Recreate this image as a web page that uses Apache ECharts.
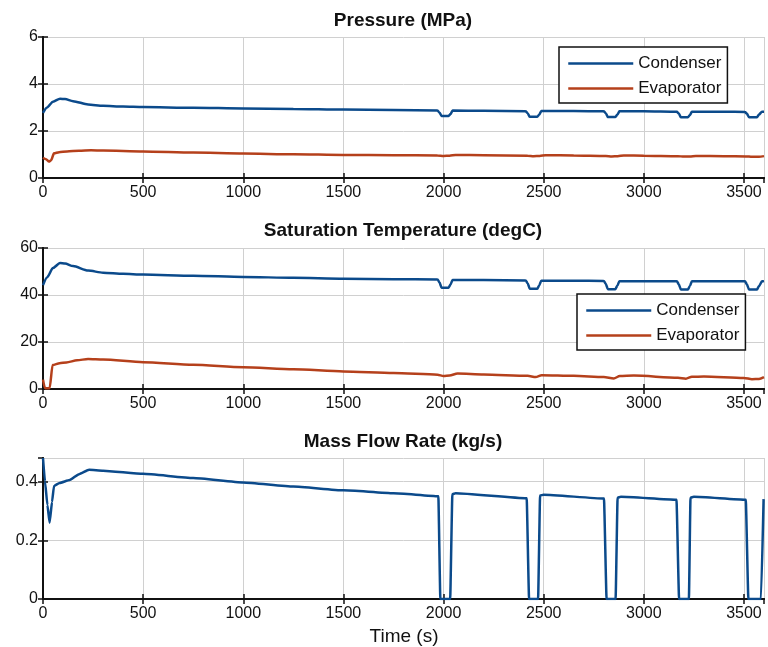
<!DOCTYPE html>
<html>
<head>
<meta charset="utf-8">
<script src="https://cdn.jsdelivr.net/npm/echarts@6/dist/echarts.min.js"></script>
<style>
html,body{margin:0;padding:0;background:#fff;}
#chart{width:768px;height:647px;}
</style>
</head>
<body>
<div id="chart"></div>
<script>
// ---- Data ----
const xTicks = [0, 500, 1000, 1500, 2000, 2500, 3000, 3500];
const panelTitles = ['Pressure (MPa)', 'Saturation Temperature (degC)', 'Mass Flow Rate (kg/s)'];
const xAxisTitle = 'Time (s)';
const legendNames = ['Condenser', 'Evaporator'];

// Pressure - condenser
const pCondTime = [0, 20, 50, 85, 110, 150, 225, 300, 400, 500, 750, 1000, 1250, 1500, 1750, 1970, 1980, 1990, 2025, 2035, 2045, 2200, 2410, 2420, 2430, 2468, 2478, 2488, 2650, 2800, 2810, 2820, 2858, 2868, 2878, 3000, 3165, 3175, 3185, 3220, 3230, 3240, 3400, 3505, 3515, 3525, 3565, 3575, 3590, 3600];
const pCondVal  = [2.77, 3.0, 3.25, 3.37, 3.36, 3.27, 3.13, 3.07, 3.04, 3.02, 2.99, 2.96, 2.94, 2.91, 2.89, 2.87, 2.78, 2.64, 2.64, 2.72, 2.87, 2.86, 2.84, 2.76, 2.61, 2.61, 2.70, 2.85, 2.85, 2.84, 2.76, 2.60, 2.60, 2.70, 2.84, 2.84, 2.82, 2.74, 2.58, 2.58, 2.68, 2.82, 2.82, 2.81, 2.73, 2.59, 2.59, 2.70, 2.82, 2.82];
// Pressure - evaporator
const pEvapTime = [0, 15, 30, 40, 55, 80, 120, 180, 240, 300, 500, 750, 1000, 1250, 1500, 1750, 1970, 2000, 2030, 2060, 2200, 2420, 2450, 2480, 2510, 2650, 2810, 2840, 2870, 2900, 3000, 3170, 3200, 3230, 3260, 3400, 3510, 3540, 3575, 3600];
const pEvapVal  = [0.86, 0.80, 0.70, 0.75, 1.05, 1.10, 1.13, 1.16, 1.18, 1.17, 1.13, 1.08, 1.04, 1.01, 0.98, 0.97, 0.96, 0.94, 0.95, 0.98, 0.97, 0.95, 0.93, 0.94, 0.97, 0.96, 0.94, 0.92, 0.93, 0.96, 0.95, 0.93, 0.91, 0.92, 0.94, 0.93, 0.92, 0.90, 0.90, 0.93];

// Saturation temperature - condenser
const tCondTime = [0, 20, 50, 85, 110, 150, 225, 300, 400, 500, 750, 1000, 1250, 1500, 1750, 1970, 1980, 1990, 2025, 2035, 2045, 2200, 2410, 2420, 2430, 2468, 2478, 2488, 2650, 2800, 2810, 2820, 2858, 2868, 2878, 3000, 3165, 3175, 3185, 3220, 3230, 3240, 3400, 3505, 3515, 3525, 3565, 3575, 3590, 3600];
const tCondVal  = [44.2, 47.5, 51.5, 53.6, 53.4, 52.3, 50.4, 49.5, 49.0, 48.7, 48.2, 47.7, 47.3, 46.9, 46.7, 46.6, 45.3, 43.1, 43.1, 44.5, 46.4, 46.4, 46.2, 45.0, 42.7, 42.7, 44.2, 46.1, 46.1, 46.0, 44.8, 42.5, 42.5, 44.0, 45.9, 45.9, 45.8, 44.5, 42.3, 42.3, 43.8, 45.8, 45.8, 45.8, 44.5, 42.3, 42.3, 43.8, 45.8, 45.9];
// Saturation temperature - evaporator
const tEvapTime = [0, 10, 33, 48, 83, 117, 170, 225, 300, 500, 750, 1000, 1250, 1500, 1750, 1970, 2000, 2030, 2070, 2200, 2420, 2460, 2490, 2650, 2800, 2850, 2880, 2950, 3170, 3210, 3240, 3300, 3500, 3540, 3575, 3600];
const tEvapVal  = [4.0, 0.3, 0.3, 10.2, 11.0, 11.3, 12.2, 12.8, 12.6, 11.4, 10.3, 9.3, 8.4, 7.5, 6.8, 6.1, 5.5, 5.7, 6.6, 6.2, 5.6, 5.1, 5.9, 5.6, 5.1, 4.5, 5.5, 5.7, 4.8, 4.4, 5.2, 5.3, 4.7, 4.2, 4.3, 5.1];

// Mass flow rate
const mfrTime = [0, 10, 22, 33, 45, 55, 83, 133, 180, 230, 300, 500, 750, 1000, 1250, 1500, 1750, 1974, 1984, 2033, 2044, 2060, 2415, 2427, 2472, 2482, 2500, 2801, 2814, 2859, 2869, 2885, 3163, 3176, 3225, 3233, 3250, 3509, 3522, 3585, 3598];
const mfrVal  = [0.48, 0.40, 0.32, 0.26, 0.33, 0.385, 0.395, 0.405, 0.425, 0.44, 0.437, 0.426, 0.412, 0.397, 0.383, 0.37, 0.36, 0.35, 0.0, 0.0, 0.357, 0.36, 0.343, 0.0, 0.0, 0.352, 0.355, 0.342, 0.0, 0.0, 0.345, 0.348, 0.338, 0.0, 0.0, 0.345, 0.348, 0.338, 0.0, 0.0, 0.34];

// ---- Styling ----
const BLUE = '#0b4a8b';
const RED = '#b5401b';
const FONT = 'Liberation Sans, Arial, Helvetica, sans-serif';
const pair = (ts, vs) => ts.map((t, i) => [t, vs[i]]);

const grids = [
  {left: 43, right: 4, top: 37, height: 141},
  {left: 43, right: 4, top: 248, height: 141},
  {left: 43, right: 4, top: 458, height: 141}
];
const yRanges = [
  {min: 0, max: 6, interval: 2},
  {min: 0, max: 60, interval: 20},
  {min: 0, max: 0.48, interval: 0.2}
];

const axisLineStyle = {show: true, lineStyle: {color: '#111', width: 2}};
const tickStyle = {show: true, inside: true, length: 5, lineStyle: {color: '#111', width: 1.5}};
const splitStyle = {show: true, lineStyle: {color: '#d0d0d0', width: 1}};
const labelStyle = {color: '#111', fontSize: 16, fontFamily: FONT};

const xAxes = [], yAxes = [];
grids.forEach((g, i) => {
  xAxes.push({
    type: 'value', gridIndex: i, position: 'bottom', min: 0, max: 3600, interval: 500,
    axisLine: axisLineStyle, axisTick: tickStyle, splitLine: splitStyle,
    axisLabel: Object.assign({margin: 7, showMaxLabel: false,
      formatter: v => (xTicks.indexOf(v) >= 0 ? String(v) : '')}, labelStyle)
  });
  xAxes.push({
    type: 'value', gridIndex: i, position: 'top', min: 0, max: 3600, interval: 500,
    axisLine: axisLineStyle, axisTick: tickStyle, splitLine: {show: false}, axisLabel: {show: false}
  });
  const yr = yRanges[i];
  yAxes.push({
    type: 'value', gridIndex: i, position: 'left', min: yr.min, max: yr.max, interval: yr.interval,
    axisLine: axisLineStyle, axisTick: tickStyle, splitLine: splitStyle,
    axisLabel: Object.assign({margin: 5, showMaxLabel: i !== 2}, labelStyle)
  });
  yAxes.push({
    type: 'value', gridIndex: i, position: 'right', min: yr.min, max: yr.max, interval: yr.interval,
    axisLine: axisLineStyle, axisTick: tickStyle, splitLine: {show: false}, axisLabel: {show: false}
  });
});

const lineSeries = (name, data, color, gi) => ({
  name: name, type: 'line', xAxisIndex: gi * 2, yAxisIndex: gi * 2, data: data,
  symbol: 'none', smooth: 0.25, smoothMonotone: 'x', clip: true,
  lineStyle: {color: color, width: 2.5}, itemStyle: {color: color}, z: 3
});

const legendBase = {
  orient: 'vertical', itemWidth: 65, itemHeight: 14, itemGap: 8,
  backgroundColor: '#fff', borderColor: '#111', borderWidth: 1.5, borderRadius: 0,
  textStyle: {fontSize: 17, color: '#111', fontFamily: FONT},
  itemStyle: {opacity: 0, color: 'transparent', borderColor: 'transparent', borderWidth: 0},
  lineStyle: {width: 2.5},
  data: legendNames, selectedMode: false, z: 10
};

const titleY = [21, 231, 442];
const graphics = panelTitles.map((t, i) => ({
  type: 'text', x: 403, y: titleY[i], z: 20,
  style: {text: t, fontSize: 19, fontWeight: 'bold', fontFamily: FONT, fill: '#111', align: 'center', verticalAlign: 'middle'}
}));
graphics.push({
  type: 'text', x: 404, y: 637, z: 20,
  style: {text: xAxisTitle, fontSize: 19, fontFamily: FONT, fill: '#111', align: 'center', verticalAlign: 'middle'}
});

const option = {
  animation: false,
  backgroundColor: '#fff',
  textStyle: {fontFamily: FONT},
  grid: grids,
  xAxis: xAxes,
  yAxis: yAxes,
  legend: [
    Object.assign({left: 559, top: 47, padding: [8, 6, 6, 8]}, legendBase),
    Object.assign({left: 577, top: 294, padding: [8, 6, 6, 8]}, legendBase)
  ],
  graphic: graphics,
  series: [
    lineSeries('Condenser', pair(pCondTime, pCondVal), BLUE, 0),
    lineSeries('Evaporator', pair(pEvapTime, pEvapVal), RED, 0),
    lineSeries('Condenser', pair(tCondTime, tCondVal), BLUE, 1),
    lineSeries('Evaporator', pair(tEvapTime, tEvapVal), RED, 1),
    Object.assign(lineSeries('Mass Flow Rate', pair(mfrTime, mfrVal), BLUE, 2), {smooth: 0.15})
  ]
};

const chart = echarts.init(document.getElementById('chart'), null, {renderer: 'canvas'});
chart.setOption(option);
</script>
</body>
</html>
